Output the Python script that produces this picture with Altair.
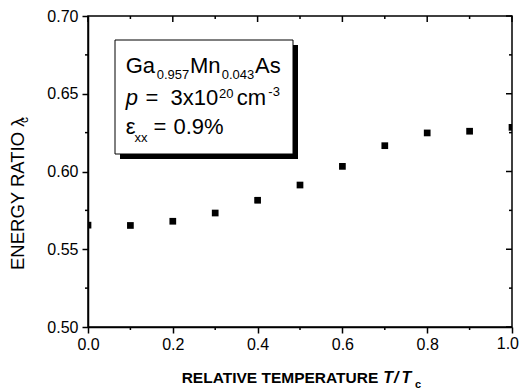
import altair as alt
import pandas as pd

# Data
t_rel = [0.0, 0.1, 0.2, 0.3, 0.4, 0.5, 0.6, 0.7, 0.8, 0.9, 1.0]
lam_c = [0.5655, 0.5653, 0.568, 0.5733, 0.5815, 0.5913, 0.6033, 0.6166, 0.6248, 0.6259, 0.6284]

x_major = [0.0, 0.2, 0.4, 0.6, 0.8, 1.0]
x_minor = [0.1, 0.3, 0.5, 0.7, 0.9]
y_major = [0.50, 0.55, 0.60, 0.65, 0.70]
y_minor = [0.525, 0.575, 0.625, 0.675]
x_last_label = ["1.0"]

W, H = 424, 311
FONT = "Liberation Sans"

df = pd.DataFrame({"T": t_rel, "lam": lam_c})
one = pd.DataFrame({"a": [0]})

xs = alt.Scale(domain=[0, 1], nice=False, zero=False)
ys = alt.Scale(domain=[0.5, 0.7], nice=False, zero=False)

xaxis = alt.Axis(values=x_major, title=None, grid=False,
                 labelExpr="datum.value >= 1 ? '' : format(datum.value, '.1f')",
                 tickSize=6, tickWidth=1.5, tickColor="black",
                 labelFontSize=16, labelFont=FONT, labelColor="black",
                 labelPadding=3, labelFlush=False, labelOverlap=False,
                 domainColor="black", domainWidth=1.5)
yaxis = alt.Axis(values=y_major, format=".2f", title=None, grid=False,
                 tickSize=6, tickWidth=1.5, tickColor="black",
                 labelFontSize=16, labelFont=FONT, labelColor="black",
                 labelPadding=4, labelOverlap=False,
                 domainColor="black", domainWidth=1.5)

points = alt.Chart(df).mark_square(size=45, color="black", opacity=1, clip=True).encode(
    x=alt.X("T:Q", scale=xs, axis=xaxis),
    y=alt.Y("lam:Q", scale=ys, axis=yaxis),
)

# last x tick label, kept inside the page edge
last_lab = alt.Chart(pd.DataFrame({"v": [x_major[-1]], "lab": x_last_label})).mark_text(
    font=FONT, fontSize=16, align="right", baseline="top", dx=7, color="black").encode(
    x=alt.X("v:Q", scale=xs, axis=xaxis), y=alt.value(H + 9), text="lab:N")


def yrule(vals, x1, x2):
    d = pd.DataFrame({"v": vals})
    return alt.Chart(d).mark_rule(color="black", strokeWidth=1.5).encode(
        y=alt.Y("v:Q", scale=ys, axis=yaxis), x=alt.value(x1), x2=alt.value(x2))


def xrule(vals, y1, y2):
    d = pd.DataFrame({"v": vals})
    return alt.Chart(d).mark_rule(color="black", strokeWidth=1.5).encode(
        x=alt.X("v:Q", scale=xs, axis=xaxis), y=alt.value(y1), y2=alt.value(y2))


ticks = [
    yrule(y_minor, -3, 0),
    yrule(y_major, W - 6, W),
    yrule(y_minor, W - 3, W),
    xrule(x_minor, H, H + 3),
    xrule(x_major, 0, 6),
    xrule(x_minor, 0, 3),
]

shadow = alt.Chart(one).mark_rect(color="black").encode(
    x=alt.value(32), x2=alt.value(210), y=alt.value(29), y2=alt.value(143))
box = alt.Chart(one).mark_rect(fill="white", stroke="black", strokeWidth=1).encode(
    x=alt.value(27), x2=alt.value(205), y=alt.value(24), y2=alt.value(138))


def txt(s, x, y, size, weight="normal", style="normal", align="left", angle=0):
    return alt.Chart(one).mark_text(font=FONT, fontSize=size, fontWeight=weight, fontStyle=style,
                                    align=align, baseline="alphabetic", angle=angle,
                                    color="black").encode(
        text=alt.value(s), x=alt.value(x), y=alt.value(y))


texts = [
    txt("Ga", 37.7, 57, 22), txt("0.957", 68.7, 63, 13), txt("Mn", 102, 57, 22),
    txt("0.043", 133.7, 63, 13), txt("As", 167, 57, 22),
    txt("p", 37.7, 89, 22, style="italic"), txt("=", 57.5, 89, 22), txt("3x10", 82.5, 89, 22),
    txt("20", 131, 82, 13), txt("cm", 148.7, 89, 22), txt("-3", 180.3, 80, 13),
    txt("\u03b5", 37.7, 118, 22), txt("xx", 46.5, 125.7, 13),
    txt("=", 65.5, 118, 22), txt("0.9%", 85.5, 118, 22),
    # x title
    txt("RELATIVE TEMPERATURE", 290.3, 367.3, 15.5, weight="bold", align="right"),
    txt("T", 295.3, 367.3, 16, weight="bold", style="italic"),
    txt("/", 306, 367.3, 16, weight="bold", style="italic"),
    txt("T", 313.5, 367.3, 16, weight="bold", style="italic"),
    txt("c", 327, 372, 11, weight="bold"),
    # y title
    txt("ENERGY RATIO \u03bb", -64.5, 254, 18.5, angle=270),
    txt("c", -60, 107, 12, angle=270),
]

chart = alt.layer(points, last_lab, *ticks, shadow, box, *texts).properties(
    width=W, height=H,
    autosize=alt.AutoSizeParams(type="none"),
    padding={"left": 80, "top": 8, "right": 7, "bottom": 64},
).configure_view(stroke="black", strokeWidth=1.5)

chart.save("out.html", embed_options={"renderer": "svg", "actions": False})
